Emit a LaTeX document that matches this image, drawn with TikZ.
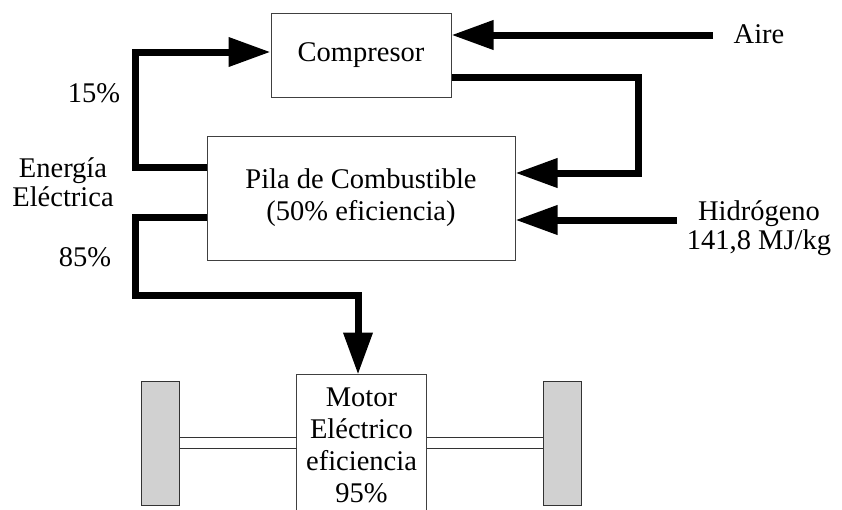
\documentclass[tikz,border=0pt]{standalone}
\usepackage{fontspec}
\setmainfont{Liberation Serif}
\usetikzlibrary{arrows.meta}
\begin{document}
\begin{tikzpicture}[x=1pt,y=-1pt,
  box/.style={draw=black!75,line width=1pt,fill=white,inner sep=0pt,align=center,font=\fontsize{28.5}{32}\selectfont},
  lbl/.style={inner sep=0pt,align=center,font=\fontsize{28.5}{29.5}\selectfont},
  flow/.style={line width=7pt},
  arr/.style={flow,-{Triangle[length=42pt,width=28pt]}},
  wheel/.style={draw=black!80,line width=1pt,fill=black!18,minimum width=38pt,minimum height=124pt,inner sep=0pt},
  shaft/.style={draw=black!80,line width=1pt}]
\useasboundingbox (0,0) rectangle (842,509);
% boxes
\node[box,minimum width=180pt,minimum height=84pt] (comp) at (361,55) {Compresor};
\node[box,minimum width=308pt,minimum height=124pt] (pila) at (361,198) {Pila de Combustible\\(50\% eficiencia)};
\node[box,draw=none,fill=none,minimum width=129pt,minimum height=140pt] (motor) at (361.5,445) {Motor\\Eléctrico\\eficiencia\\95\%};
\draw[draw=black!75,line width=1pt] (motor.west |- 0,512) -- (motor.north west) -- (motor.north east) -- (motor.east |- 0,512);
\node[wheel] (wl) at (160,443) {};
\node[wheel] (wr) at (562,443) {};
% shafts
\draw[shaft] (wl.east |- 0,437) -- (motor.west |- 0,437);
\draw[shaft] (wl.east |- 0,448) -- (motor.west |- 0,448);
\draw[shaft] (motor.east |- 0,437) -- (wr.west |- 0,437);
\draw[shaft] (motor.east |- 0,448) -- (wr.west |- 0,448);
% labels
\node[lbl] (aire) at (759,34) {Aire};
\node[lbl] (h2) at (759,228) {Hidrógeno\\141,8 MJ/kg};
\node[lbl] (p15) at (94,93) {15\%};
\node[lbl] (ee) at (63,182) {Energía\\Eléctrica};
\node[lbl] (p85) at (85,257) {85\%};
% connector coordinates
\coordinate (aireEnd) at (713,35);
\coordinate (h2End) at (677,220);
\coordinate (cR) at (638,77);
\coordinate (lX) at (135,0);
\coordinate (dn) at (358,295);
% flows
\draw[arr] (aireEnd) -- (comp.east |- aireEnd);
\draw[arr] (comp.east |- cR) -- (cR) -- (cR |- 0,173) -- (pila.east |- 0,173);
\draw[arr] (h2End) -- (pila.east |- h2End);
\draw[arr] (pila.west |- 0,167) -- (lX |- 0,167) -- (lX |- 0,52) -- (comp.west |- 0,52);
\draw[arr] (pila.west |- 0,217) -- (lX |- 0,217) -- (lX |- dn) -- (dn) -- (dn |- motor.north);
\end{tikzpicture}
\end{document}
